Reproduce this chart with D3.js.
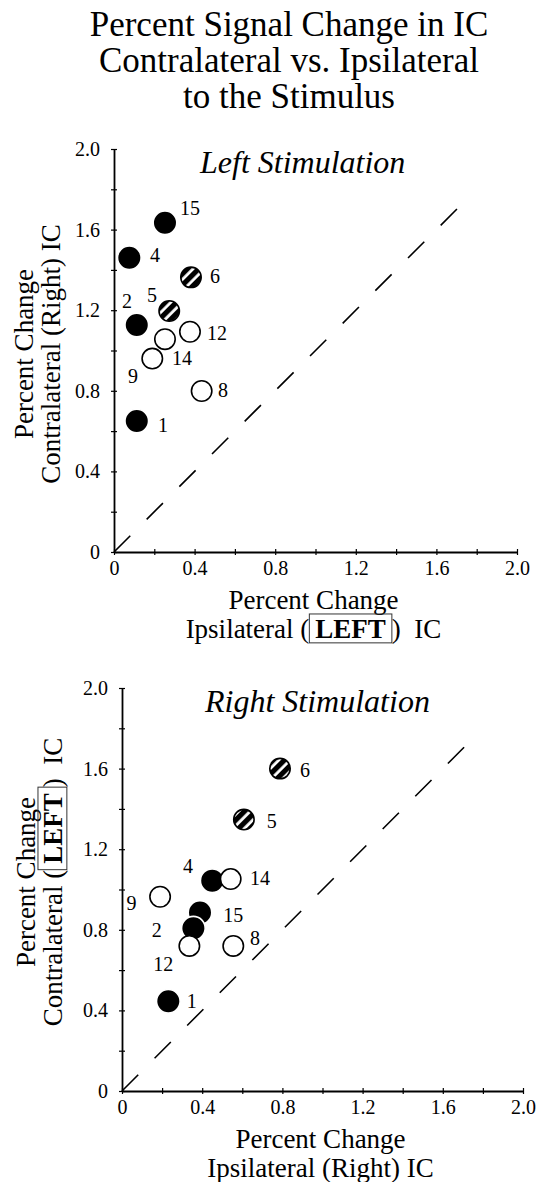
<!DOCTYPE html>
<html>
<head>
<meta charset="utf-8">
<script src="https://cdn.jsdelivr.net/npm/d3@7"></script>
<style>
  body { margin: 0; background: #fff; }
  text { font-family: "Liberation Serif", "Times New Roman", serif; fill: #000; white-space: pre; }
</style>
</head>
<body>
<script>
var WIDTH = 538;
var HEIGHT = 1182;

var titleLines = ["Percent Signal Change in IC", "Contralateral vs. Ipsilateral", "to the Stimulus"];
var tickValues = [0, 0.2, 0.4, 0.6, 0.8, 1.0, 1.2, 1.4, 1.6, 1.8, 2.0];
var labelledTicks = [0, 0.4, 0.8, 1.2, 1.6, 2.0];
var unityLine = [0, 1.72];

// Left stimulation (top panel)
var leftIds    = ["15", "4", "6", "5", "2", "12", "14", "9", "8", "1"];
var leftIpsi   = [0.253, 0.076, 0.382, 0.274, 0.113, 0.377, 0.253, 0.190, 0.435, 0.113];
var leftContra = [1.634, 1.460, 1.363, 1.196, 1.127, 1.093, 1.056, 0.960, 0.799, 0.650];
var leftKind   = ["filled", "filled", "hatched", "hatched", "filled", "open", "open", "open", "open", "filled"];
var leftLabelX = [0.328, 0.179, 0.476, 0.164, 0.040, 0.462, 0.288, 0.069, 0.516, 0.218];
var leftLabelY = [1.672, 1.439, 1.335, 1.241, 1.211, 1.052, 0.928, 0.839, 0.769, 0.596];

// Right stimulation (bottom panel)
var rightIds    = ["6", "5", "4", "14", "9", "15", "2", "12", "8", "1"];
var rightIpsi   = [0.788, 0.608, 0.450, 0.542, 0.190, 0.389, 0.356, 0.336, 0.555, 0.231];
var rightContra = [1.600, 1.347, 1.044, 1.052, 0.964, 0.886, 0.808, 0.720, 0.720, 0.445];
var rightKind   = ["hatched", "hatched", "filled", "open", "open", "filled", "filled", "open", "open", "filled"];
var rightLabelX = [0.888, 0.722, 0.304, 0.638, 0.023, 0.505, 0.148, 0.156, 0.638, 0.323];
var rightLabelY = [1.558, 1.305, 1.081, 1.022, 0.898, 0.840, 0.766, 0.595, 0.724, 0.410];

var svg = d3.select("body")
  .append("svg")
  .attr("width", WIDTH)
  .attr("height", HEIGHT);

svg.append("rect").attr("width", WIDTH).attr("height", HEIGHT).attr("fill", "#fff");

// hatch for the striped markers
var pat = svg.append("defs").append("pattern")
  .attr("id", "hatch")
  .attr("patternUnits", "userSpaceOnUse")
  .attr("width", 8)
  .attr("height", 8)
  .attr("patternTransform", "rotate(45)");
pat.append("rect").attr("width", 8).attr("height", 8).attr("fill", "#fff");
pat.append("rect").attr("width", 5.2).attr("height", 8).attr("fill", "#000");

// main title
svg.append("g").selectAll("text")
  .data(titleLines)
  .enter()
  .append("text")
  .attr("x", 289)
  .attr("y", function (d, i) { return 36 + i * 36; })
  .attr("text-anchor", "middle")
  .style("font-size", "35px")
  .text(function (d) { return d; });

// line of text pieces, some bold and boxed, centred on cx
function richLine(g, parts, cx, y, size) {
  var pad = 6;
  var nodes = parts.map(function (p) {
    return g.append("text")
      .attr("y", y)
      .style("font-size", size + "px")
      .style("font-weight", p.box ? "bold" : "normal")
      .text(p.t);
  });
  var widths = nodes.map(function (n, i) {
    return n.node().getComputedTextLength() + (parts[i].box ? 2 * pad : 0);
  });
  var x = cx - d3.sum(widths) / 2;
  nodes.forEach(function (n, i) {
    if (parts[i].box) {
      g.append("rect")
        .attr("x", x)
        .attr("y", y - size * 0.89)
        .attr("width", widths[i])
        .attr("height", size * 1.07)
        .attr("fill", "none")
        .attr("stroke", "#333")
        .attr("stroke-width", 1);
      n.attr("x", x + pad);
    } else {
      n.attr("x", x);
    }
    x += widths[i];
  });
}

function drawPanel(p) {
  var x = d3.scaleLinear().domain([0, 2]).range(p.xRange);
  var y = d3.scaleLinear().domain([0, 2]).range(p.yRange);
  var g = svg.append("g");
  var fmt = function (d) {
    if (labelledTicks.indexOf(+d.toFixed(1)) < 0) return "";
    return d === 0 ? "0" : d3.format(".1f")(d);
  };

  // unity line
  g.append("line")
    .attr("x1", x(unityLine[0])).attr("y1", y(unityLine[0]))
    .attr("x2", x(unityLine[1])).attr("y2", y(unityLine[1]))
    .attr("stroke", "#000")
    .attr("stroke-width", 1.6)
    .attr("stroke-dasharray", "23,23.2");

  var ya = g.append("g")
    .attr("transform", "translate(" + p.xRange[0] + ",0)")
    .call(d3.axisLeft(y).tickValues(tickValues).tickSize(6).tickSizeOuter(0).tickPadding(8).tickFormat(fmt));
  ya.selectAll(".tick line").attr("x1", 3).attr("x2", -3).attr("stroke-width", 1.2);

  var xa = g.append("g")
    .attr("transform", "translate(0," + p.yRange[0] + ")")
    .call(d3.axisBottom(x).tickValues(tickValues).tickSize(6).tickSizeOuter(0).tickPadding(3).tickFormat(fmt));
  xa.selectAll(".tick line").attr("y1", -3).attr("y2", 3).attr("stroke-width", 1.2);

  g.selectAll(".domain").attr("stroke-width", 1.8);
  g.selectAll(".tick text").style("font-size", "20px");

  // panel heading
  g.append("text")
    .attr("x", p.xRange[0] + p.headDx)
    .attr("y", p.yRange[1] + 24)
    .style("font-size", "32px")
    .style("font-style", "italic")
    .text(p.heading);

  // points
  var pts = p.ids.map(function (id, i) {
    return { id: id, ipsi: p.ipsi[i], contra: p.contra[i], kind: p.kind[i], lx: p.lx[i], ly: p.ly[i] };
  });

  g.append("g").selectAll("circle")
    .data(pts)
    .enter()
    .append("circle")
    .attr("cx", function (d) { return x(d.ipsi); })
    .attr("cy", function (d) { return y(d.contra); })
    .attr("r", function (d) { return d.kind === "filled" ? 11.8 : 10.2; })
    .attr("fill", function (d) {
      if (d.kind === "filled") return "#000";
      if (d.kind === "hatched") return "url(#hatch)";
      return "#fff";
    })
    .attr("stroke", function (d) { return d.kind === "filled" ? "#fff" : "#000"; })
    .attr("stroke-width", 1.6);

  g.append("g").selectAll("text")
    .data(pts)
    .enter()
    .append("text")
    .attr("x", function (d) { return x(d.lx); })
    .attr("y", function (d) { return y(d.ly); })
    .style("font-size", "20px")
    .text(function (d) { return d.id; });

  // axis titles
  var xc = (p.xRange[0] + p.xRange[1]) / 2 - 2;
  richLine(g, [{ t: "Percent Change" }], xc, p.yRange[0] + 57, 27);
  richLine(g, p.xTitle, xc, p.yRange[0] + 86, 27);

  var yt = g.append("g").attr("transform", "translate(0," + p.yTitleC + ") rotate(-90)");
  richLine(yt, [{ t: "Percent Change" }], 0, p.yTitleX[0], 27);
  richLine(yt, p.yTitle, 0, p.yTitleX[1], 27);
}

drawPanel({
  xRange: [114, 517], yRange: [552, 149],
  heading: "Left Stimulation", headDx: 86,
  ids: leftIds, ipsi: leftIpsi, contra: leftContra, kind: leftKind, lx: leftLabelX, ly: leftLabelY,
  xTitle: [{ t: "Ipsilateral (" }, { t: "LEFT", box: true }, { t: ")  IC" }],
  yTitle: [{ t: "Contralateral (Right) IC" }],
  yTitleC: 354, yTitleX: [33, 60]
});

drawPanel({
  xRange: [122, 523], yRange: [1091, 688],
  heading: "Right Stimulation", headDx: 83,
  ids: rightIds, ipsi: rightIpsi, contra: rightContra, kind: rightKind, lx: rightLabelX, ly: rightLabelY,
  xTitle: [{ t: "Ipsilateral (Right) IC" }],
  yTitle: [{ t: "Contralateral (" }, { t: "LEFT", box: true }, { t: ")  IC" }],
  yTitleC: 882, yTitleX: [35, 62]
});
</script>
</body>
</html>
